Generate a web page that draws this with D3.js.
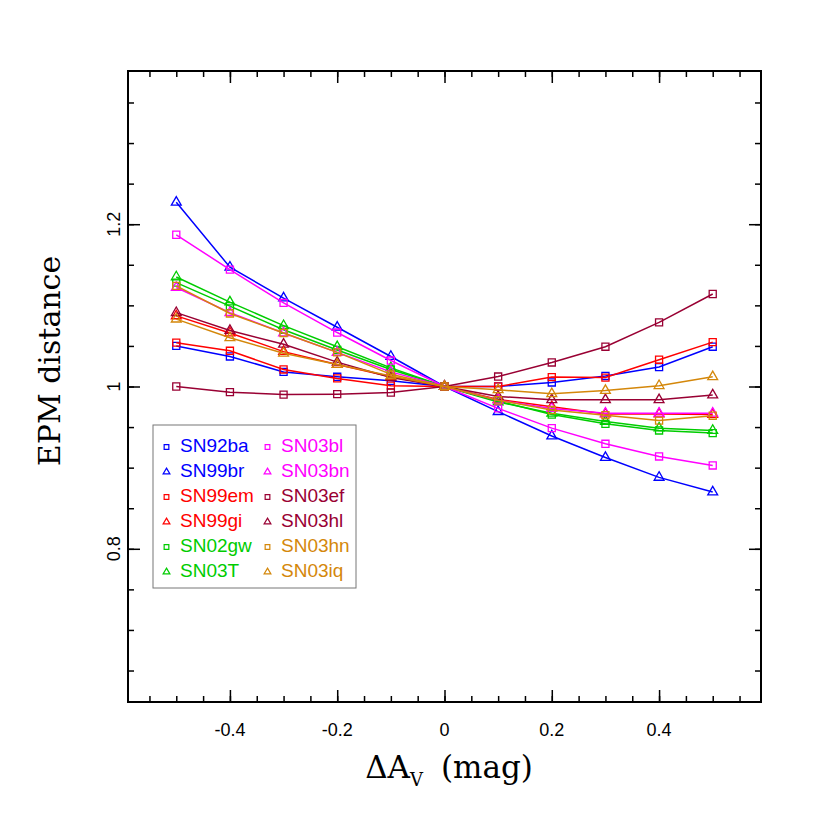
<!DOCTYPE html>
<html><head><meta charset="utf-8">
<script src="https://cdn.jsdelivr.net/npm/d3@7"></script>
<style>body{margin:0;background:#fff}</style>
</head><body>
<svg id="c" width="830" height="830"></svg>
<script>
const xValues = [-0.5,-0.4,-0.3,-0.2,-0.1,0,0.1,0.2,0.3,0.4,0.5];
const names = ["SN92ba","SN99br","SN99em","SN99gi","SN02gw","SN03T","SN03bl","SN03bn","SN03ef","SN03hl","SN03hn","SN03iq"];
const colors = ["#0000ff","#0000ff","#ff0000","#ff0000","#00cc00","#00cc00","#ff00ff","#ff00ff","#990033","#990033","#d4870a","#d4870a"];
const shapes = ["square","triangle","square","triangle","square","triangle","square","triangle","square","triangle","square","triangle"];
const SN92ba = [1.050,1.037,1.018,1.012,1.007,1,1.000,1.005,1.013,1.024,1.049];
const SN99br = [1.227,1.147,1.109,1.073,1.037,1,0.969,0.939,0.9125,0.888,0.870];
const SN99em = [1.054,1.044,1.021,1.010,1.001,1,1.000,1.0116,1.011,1.033,1.0547];
const SN99gi = [1.087,1.066,1.043,1.027,1.012,1,0.984,0.975,0.966,0.966,0.9655];
const SN02gw = [1.128,1.099,1.070,1.045,1.021,1,0.982,0.9655,0.954,0.9458,0.9426];
const SN03T  = [1.135,1.104,1.075,1.049,1.023,1,0.981,0.967,0.957,0.9487,0.9458];
const SN03bl = [1.187,1.144,1.103,1.0665,1.032,1,0.973,0.9487,0.9294,0.9138,0.9027];
const SN03bn = [1.122,1.091,1.066,1.042,1.018,1,0.983,0.973,0.967,0.967,0.967];
const SN03ef = [1.000,0.993,0.990,0.9906,0.9926,1,1.0123,1.0296,1.049,1.079,1.114];
const SN03hl = [1.091,1.069,1.052,1.030,1.011,1,0.9877,0.9836,0.9836,0.9836,0.9894];
const SN03hn = [1.124,1.090,1.066,1.042,1.015,1,0.983,0.971,0.9647,0.958,0.964];
const SN03iq = [1.083,1.060,1.041,1.027,1.013,1,0.996,0.991,0.995,1.001,1.012];
const seriesValues = [SN92ba,SN99br,SN99em,SN99gi,SN02gw,SN03T,SN03bl,SN03bn,SN03ef,SN03hl,SN03hn,SN03iq];
const xMajorTicks = [-0.4,-0.2,0,0.2,0.4];
const xTickLabels = ["-0.4","-0.2","0","0.2","0.4"];
const yMajorTicks = [0.8,1,1.2];
const yTickLabels = ["0.8","1","1.2"];

const L=128,R=761,T=71,B=702;
const x = d3.scaleLinear().domain([-0.59,0.59]).range([L,R]);
const y = d3.scaleLinear().domain([0.6112,1.3888]).range([B,T]);
const svg = d3.select("#c");

const xMinor = d3.range(-0.55,0.56,0.05).map(v=>+v.toFixed(2));
const yMinor = d3.range(0.65,1.36,0.05).map(v=>+v.toFixed(2));

function tickAxis(axisFn, scale, ticks, size, tr){
  const g = svg.append("g").attr("transform",tr)
    .call(axisFn(scale).tickValues(ticks).tickSize(-size).tickFormat(""));
  g.select(".domain").remove();
  g.selectAll("line").attr("stroke","#000").attr("stroke-width",1.5);
}
tickAxis(d3.axisBottom,x,xMinor,6,`translate(0,${B})`);
tickAxis(d3.axisBottom,x,xMajorTicks,12,`translate(0,${B})`);
tickAxis(d3.axisTop,x,xMinor,6,`translate(0,${T})`);
tickAxis(d3.axisTop,x,xMajorTicks,12,`translate(0,${T})`);
tickAxis(d3.axisLeft,y,yMinor,6,`translate(${L},0)`);
tickAxis(d3.axisLeft,y,yMajorTicks,12,`translate(${L},0)`);
tickAxis(d3.axisRight,y,yMinor,6,`translate(${R},0)`);
tickAxis(d3.axisRight,y,yMajorTicks,12,`translate(${R},0)`);

svg.append("rect").attr("x",L).attr("y",T).attr("width",R-L).attr("height",B-T)
  .attr("fill","none").attr("stroke","#000").attr("stroke-width",2);

svg.append("g").selectAll("text").data(xMajorTicks).join("text")
  .attr("x",d=>x(d)).attr("y",B+34).attr("text-anchor","middle")
  .attr("font-family","Liberation Sans, Arial, sans-serif").attr("font-size",18)
  .text((d,i)=>xTickLabels[i]);
svg.append("g").selectAll("text").data(yMajorTicks).join("text")
  .attr("transform",d=>`translate(${L-8},${y(d)}) rotate(-90)`).attr("text-anchor","middle")
  .attr("font-family","Liberation Sans, Arial, sans-serif").attr("font-size",18)
  .text((d,i)=>yTickLabels[i]);

// axis titles
const xt = svg.append("text").attr("x",449).attr("y",778).attr("text-anchor","middle")
  .style("font-family","'DejaVu Serif', serif").attr("font-size",31);
xt.append("tspan").text("ΔA");
xt.append("tspan").attr("font-size",18).attr("dy",8).text("V");
xt.append("tspan").attr("dy",-8).attr("dx",18).text("(mag)");
svg.append("text").attr("transform","translate(60,361) rotate(-90)").attr("text-anchor","middle")
  .style("font-family","'DejaVu Serif', serif").attr("font-size",30).text("EPM distance");

const sym = {square:d3.symbolSquare, triangle:d3.symbolTriangle};
const line = d3.line().x((d,i)=>x(xValues[i])).y(d=>y(d));
seriesValues.forEach((vals,k)=>{
  const g = svg.append("g");
  g.append("path").attr("d",line(vals)).attr("fill","none").attr("stroke",colors[k]).attr("stroke-width",1.5);
  g.selectAll("path.m").data(vals).join("path").attr("class","m")
    .attr("transform",(d,i)=>`translate(${x(xValues[i])},${y(d)})`)
    .attr("d",d3.symbol().type(sym[shapes[k]]).size(shapes[k]==="square"?50:42))
    .attr("fill","none").attr("stroke",colors[k]).attr("stroke-width",1.3);
});

// legend
const lg = svg.append("g");
lg.append("rect").attr("x",153).attr("y",425).attr("width",203).attr("height",163)
  .attr("fill","#fff").attr("stroke","#777").attr("stroke-width",1);
names.forEach((n,k)=>{
  const col = k<6?0:1, row = k%6;
  const mx = col===0?166.5:267.5, ty = 445+row*25;
  lg.append("path").attr("transform",`translate(${mx},${ty+2})`)
    .attr("d",d3.symbol().type(sym[shapes[k]]).size(shapes[k]==="square"?22:20))
    .attr("fill","none").attr("stroke",colors[k]).attr("stroke-width",1.2);
  lg.append("text").attr("x",mx+13.5).attr("y",ty+7)
    .attr("font-family","Liberation Sans, Arial, sans-serif").attr("font-size",19)
    .attr("fill",colors[k]).text(n);
});
</script>
</body></html>
